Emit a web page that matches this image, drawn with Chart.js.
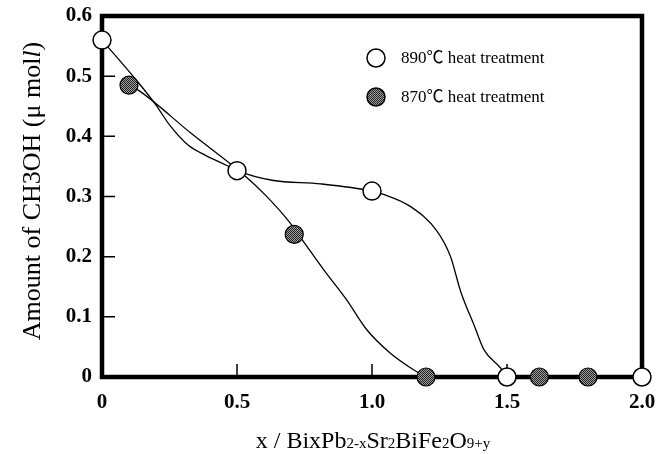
<!DOCTYPE html>
<html><head><meta charset="utf-8">
<script src="https://cdn.jsdelivr.net/npm/chart.js@4"></script>
<style>html,body{margin:0;padding:0;background:#fff;}canvas{display:block}</style>
</head><body>
<canvas id="c" width="669" height="454"></canvas>
<script>
// ---- data ----
const xTickLabels = ["0", "0.5", "1.0", "1.5", "2.0"];
const yTickLabels = ["0", "0.1", "0.2", "0.3", "0.4", "0.5", "0.6"];
const xInnerTicks = [0.5, 1.0, 1.5];
const yInnerTicks = [0.1, 0.2, 0.3, 0.4, 0.5];

const legendLabels = ["890\u2103 heat treatment", "870\u2103 heat treatment"];

const x890 = [0, 0.5, 1.0, 1.5, 2.0];
const y890 = [0.56, 0.343, 0.309, 0, 0];
const x870 = [0.1, 0.712, 1.2, 1.62, 1.8];
const y870 = [0.485, 0.237, 0, 0, 0];

// hand-drawn guide curves
const curve890X = [0, 0.13, 0.2, 0.25, 0.32, 0.385, 0.46, 0.5, 0.63, 0.81, 1.0, 1.04, 1.14, 1.24, 1.29, 1.33, 1.38, 1.415, 1.476, 1.5];
const curve890Y = [0.56, 0.492, 0.452, 0.419, 0.385, 0.368, 0.352, 0.343, 0.327, 0.321, 0.309, 0.304, 0.284, 0.243, 0.201, 0.14, 0.084, 0.045, 0.015, 0];
const curve870X = [0.1, 0.137, 0.33, 0.528, 0.608, 0.695, 0.745, 0.82, 0.905, 0.98, 1.067, 1.154, 1.2];
const curve870Y = [0.485, 0.476, 0.405, 0.335, 0.301, 0.257, 0.226, 0.179, 0.129, 0.079, 0.04, 0.012, 0];

const zip = (xs, ys) => xs.map((x, i) => ({x: x, y: ys[i]}));

const canvas = document.getElementById('c');
const mainCtx = canvas.getContext('2d');
function makeStipple() {
  const p = document.createElement('canvas');
  p.width = 2; p.height = 2;
  const g = p.getContext('2d');
  g.fillStyle = '#a0a0a0'; g.fillRect(0, 0, 2, 2);
  g.fillStyle = '#202020'; g.fillRect(0, 0, 1, 1); g.fillRect(1, 1, 1, 1);
  return mainCtx.createPattern(p, 'repeat');
}
const stipple = makeStipple();

const SERIF = '"Liberation Serif", "Times New Roman", "Noto Sans CJK JP", serif';

function drawRuns(ctx, runs, cx, baseY) {
  let total = 0;
  runs.forEach(r => { ctx.font = r.f; r.w = ctx.measureText(r.t).width; total += r.w; });
  let x = cx - total / 2;
  ctx.textAlign = 'left';
  ctx.textBaseline = 'alphabetic';
  runs.forEach(r => { ctx.font = r.f; ctx.fillText(r.t, x, baseY); x += r.w; });
}

const framePlugin = {
  id: 'frame',
  beforeDatasetsDraw(chart) {
    const {ctx, chartArea: a, scales} = chart;
    ctx.save();
    ctx.strokeStyle = '#000';
    ctx.lineWidth = 1.5;
    ctx.beginPath();
    xInnerTicks.forEach(v => {
      const px = scales.x.getPixelForValue(v);
      ctx.moveTo(px, a.bottom); ctx.lineTo(px, a.bottom - 13);
    });
    yInnerTicks.forEach(v => {
      const py = scales.y.getPixelForValue(v);
      ctx.moveTo(a.left, py); ctx.lineTo(a.left + 13, py);
    });
    ctx.stroke();
    ctx.lineWidth = 4.5;
    ctx.strokeRect(a.left, a.top, a.right - a.left, a.bottom - a.top);
    ctx.restore();
  },
  afterDraw(chart) {
    const {ctx} = chart;
    ctx.save();
    ctx.fillStyle = '#000';
    // y title
    ctx.translate(31, 191);
    ctx.rotate(-Math.PI / 2);
    const yf = '26px ' + SERIF;
    drawRuns(ctx, [
      {t: 'Amount of CH3OH (\u03bc mol', f: yf},
      {t: 'l', f: 'italic ' + yf},
      {t: ')', f: yf}
    ], 0, 9);
    ctx.restore();
    // x title
    ctx.save();
    ctx.fillStyle = '#000';
    const big = '24px ' + SERIF, small = '15px ' + SERIF;
    drawRuns(ctx, [
      {t: 'x / BixPb', f: big}, {t: '2-x', f: small}, {t: 'Sr', f: big}, {t: '2', f: small},
      {t: 'BiFe', f: big}, {t: '2', f: small}, {t: 'O', f: big}, {t: '9+y', f: small}
    ], 373, 448);
    // legend
    const items = [
      {y: 58, fill: '#fff'},
      {y: 97, fill: stipple}
    ];
    items.forEach((it, i) => {
      ctx.beginPath();
      ctx.arc(376, it.y, 9, 0, Math.PI * 2);
      ctx.fillStyle = it.fill; ctx.fill();
      ctx.lineWidth = 1.5; ctx.strokeStyle = '#000'; ctx.stroke();
      ctx.fillStyle = '#000';
      ctx.font = '17px ' + SERIF;
      ctx.textAlign = 'left'; ctx.textBaseline = 'middle';
      ctx.fillText(legendLabels[i], 401, it.y + 1);
    });
    ctx.restore();
  }
};

const tickFont = {family: SERIF, size: 21, weight: 'bold'};

new Chart(canvas, {
  type: 'scatter',
  data: {
    datasets: [
      {label: legendLabels[0], data: zip(x890, y890), order: 0, clip: false, pointRadius: 9, pointHoverRadius: 9,
       pointBackgroundColor: '#fff', pointBorderColor: '#000', pointBorderWidth: 1.5, showLine: false},
      {label: legendLabels[1], data: zip(x870, y870), order: 0, clip: false, pointRadius: 9, pointHoverRadius: 9,
       pointBackgroundColor: stipple, pointBorderColor: '#000', pointBorderWidth: 1.2, showLine: false},
      {label: 'curve890', data: zip(curve890X, curve890Y), order: 1, clip: false, showLine: true, pointRadius: 0,
       borderColor: '#000', borderWidth: 1.3, cubicInterpolationMode: 'monotone', fill: false},
      {label: 'curve870', data: zip(curve870X, curve870Y), order: 1, clip: false, showLine: true, pointRadius: 0,
       borderColor: '#000', borderWidth: 1.3, cubicInterpolationMode: 'monotone', fill: false}
    ]
  },
  options: {
    responsive: false,
    devicePixelRatio: 1,
    animation: false,
    layout: {padding: {left: 0, right: 27, top: 16, bottom: 0}},
    plugins: {legend: {display: false}, tooltip: {enabled: false}},
    scales: {
      x: {
        type: 'linear', min: 0, max: 2,
        grid: {display: false, drawTicks: false},
        border: {display: false},
        ticks: {stepSize: 0.5, autoSkip: false, maxRotation: 0, padding: 13, color: '#000', font: tickFont,
                callback: (v, i) => xTickLabels[i]},
        afterFit: s => { s.height = 77; s.paddingLeft = 0; s.paddingRight = 0; }
      },
      y: {
        type: 'linear', min: 0, max: 0.6,
        grid: {display: false, drawTicks: false},
        border: {display: false},
        ticks: {stepSize: 0.1, autoSkip: false, padding: 10, color: '#000', font: tickFont,
                callback: (v, i) => yTickLabels[i]},
        afterFit: s => { s.width = 102; s.paddingTop = 0; s.paddingBottom = 0; }
      }
    }
  },
  plugins: [framePlugin]
});
</script>
</body></html>
